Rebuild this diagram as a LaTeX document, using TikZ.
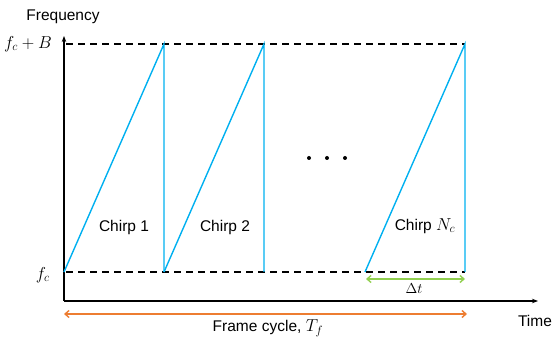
\documentclass[tikz,border=0pt]{standalone}
\usepackage{fontspec}
\setmainfont{Liberation Sans}
\usetikzlibrary{arrows.meta}
\definecolor{chirpblue}{RGB}{0,176,240}
\definecolor{frameorange}{RGB}{237,125,49}
\definecolor{deltagreen}{RGB}{146,208,80}
\begin{document}
\begin{tikzpicture}[x=1pt, y=-1pt,
  lab/.style={font=\fontsize{15.5}{18}\selectfont, inner sep=1pt},
  mlab/.style={font=\fontsize{17}{20}\selectfont, inner sep=1pt},
  small/.style={font=\fontsize{13.5}{16}\selectfont, inner sep=1pt},
  axis/.style={line width=1.3pt, -{Stealth[length=6pt, width=4.5pt]}},
  lvl/.style={line width=1.5pt, dash pattern=on 7pt off 5pt},
  chirp/.style={chirpblue, line width=1.4pt},
  span/.style={line width=1.4pt, {Straight Barb[length=4pt, width=7pt]}-{Straight Barb[length=4pt, width=7pt]}}]
\useasboundingbox (0,0) rectangle (555,342);
% axes
\coordinate (o) at (64,301); \coordinate (ytop) at (64,36); \coordinate (xend) at (538,301);
\draw[axis] (o) -- (ytop);
\draw[axis] (o) -- (xend);
\node[lab] (freq) at (63,17) {Frequency};
\node[lab] (time) at (535,321) {Time};
% levels
\coordinate (hi0) at (66,44); \coordinate (hi1) at (465,44);
\coordinate (lo0) at (66,272); \coordinate (lo1) at (465,272);
\node[mlab, anchor=east] (fcb) at (53,44) {$f_c+B$};
\node[mlab, anchor=east] (fc) at (51,275) {$f_c$};
\draw[lvl] (hi0) -- (hi1);
\draw[lvl] (lo0) -- (lo1);
% chirps
\foreach \s/\n in {64/1,164/2,365/3} {
  \coordinate (s\n) at (\s,272);
  \coordinate (p\n) at (\s+100,44);
  \coordinate (e\n) at (\s+100,272);
  \draw[chirp] (s\n) -- (p\n) -- (e\n);
}
\node[lab] (c1) at (124,227) {Chirp 1};
\node[lab] (c2) at (225,227) {Chirp 2};
\node[lab] (cn) at (425,226) {Chirp {\fontsize{17}{20}\selectfont$N_c$}};
\foreach \x in {309,327,345} \fill (\x,158) circle (2pt);
% spans
\coordinate (d0) at (366,279); \coordinate (d1) at (465,279);
\draw[span, deltagreen] (d0) -- (d1);
\node[small] (dt) at (414,289) {$\Delta t$};
\coordinate (f0) at (64,314); \coordinate (f1) at (467,314);
\draw[span, frameorange] (f0) -- (f1);
\node[lab] (fr) at (268,328) {Frame cycle, {\fontsize{17}{20}\selectfont$T_f$}};
\end{tikzpicture}
\end{document}
